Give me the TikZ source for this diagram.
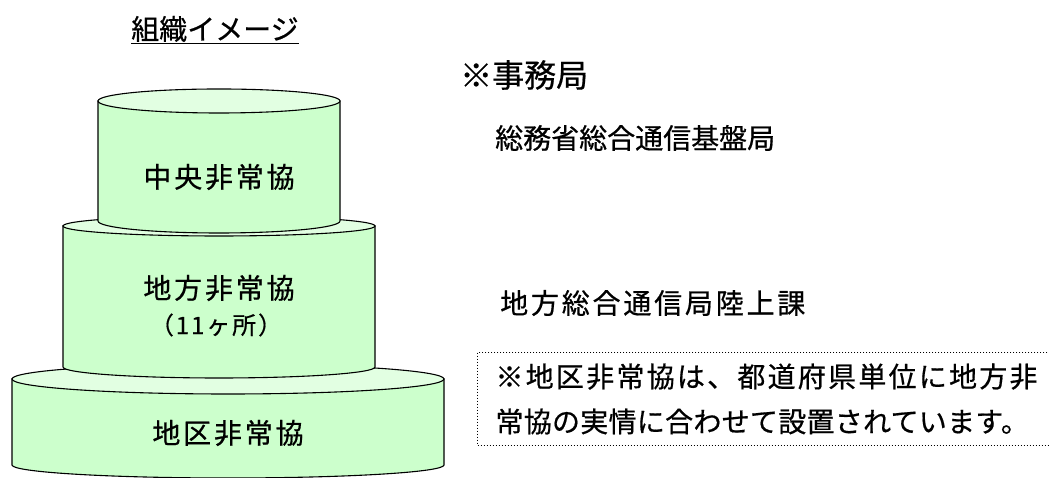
\documentclass[tikz,border=0pt]{standalone}
\usepackage{fontspec}
\setmainfont{Noto Sans CJK JP}[FakeBold=0.6]
\usepackage{tikz}
\definecolor{tierbody}{RGB}{204,255,204}
\definecolor{tiertop}{RGB}{226,255,226}
\tikzset{
  tier/.style={draw=black, line width=1.1pt, fill=tierbody},
  tiercap/.style={draw=black, line width=1.1pt, fill=tiertop},
  tiertext/.style={font=\fontsize{28pt}{34pt}\selectfont\addfontfeature{LetterSpace=10}, align=center},
  plaintext/.style={font=\fontsize{28pt}{34pt}\selectfont, anchor=west}
}

\begin{document}
\begin{tikzpicture}[x=1pt, y=1pt]
            \useasboundingbox (0,0) rectangle (1049,478);

            % bottom tier
            \draw[tier] (12,99) -- (12,13) arc[start angle=180, end angle=360, x radius=216pt, y radius=13pt] -- (444,99) -- cycle;
            \draw[tiercap] (228,99) ellipse[x radius=216pt, y radius=15pt];

            % middle tier
            \draw[tier] (63,252) -- (63,111) arc[start angle=180, end angle=360, x radius=156pt, y radius=11pt] -- (375,252) -- cycle;
            \draw[tiercap] (219,252) ellipse[x radius=156pt, y radius=10pt];

            % top tier
            \draw[tier] (98,377) -- (98,257) arc[start angle=180, end angle=360, x radius=121pt, y radius=12pt] -- (340,377) -- cycle;
            \draw[tiercap] (219,377) ellipse[x radius=121pt, y radius=12pt];

            \node[tiertext] (central) at (219,301) {中央非常協};
            \node[tiertext] (regional) at (219,190) {地方非常協};
            \node[font=\fontsize{24pt}{28pt}\selectfont\addfontfeature{LetterSpace=8}] (regionalcount) at (216,153) {（11ヶ所）};
            \node[tiertext] (district) at (228,45) {地区非常協};

            \node[font=\fontsize{28pt}{34pt}\selectfont] (title) at (215,448) {\underline{組織イメージ}};

            \node[font=\fontsize{32pt}{38pt}\selectfont, anchor=west, inner sep=0pt] (office) at (460,403) {※事務局};
            \node[plaintext, inner sep=0pt] (ministry) at (495,340) {総務省総合通信基盤局};
            \node[plaintext, inner sep=0pt, font=\fontsize{28pt}{34pt}\selectfont\addfontfeature{LetterSpace=10}] (bureau) at (500,175) {地方総合通信局陸上課};

            \node[draw, dotted, line width=1pt, anchor=north west, align=left,
                  inner xsep=18pt, inner ysep=11pt, text width=540pt,
                  font=\fontsize{28pt}{42pt}\selectfont] (note) at (477,126)
            {\raisebox{3pt}{\addfontfeature{LetterSpace=8}※地区非常協は、都道府県単位に地方非}\\
             {\addfontfeature{LetterSpace=1}常協の実情に合わせて設置されています。}};
            \end{tikzpicture}
\end{document}
